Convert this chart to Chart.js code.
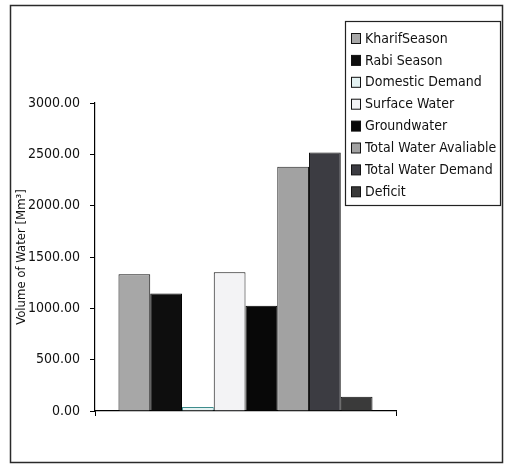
<!DOCTYPE html>
<html>
<head>
<meta charset="utf-8">
<script src="https://cdn.jsdelivr.net/npm/chart.js@4/dist/chart.umd.min.js"></script>
<style>
html,body{margin:0;padding:0;background:#fff;}
canvas{display:block;}
</style>
</head>
<body>
<canvas id="c" width="505" height="465"></canvas>
<script>
const categories = [''];
const seriesLabels = ['KharifSeason', 'Rabi Season', 'Domestic Demand', 'Surface Water', 'Groundwater', 'Total Water Avaliable', 'Total Water Demand', 'Deficit'];
const seriesValues = [1333, 1145, 40, 1352, 1026, 2378, 2518, 140];
const yTicks = [0, 500, 1000, 1500, 2000, 2500, 3000];
const yTickLabels = ['0.00', '500.00', '1000.00', '1500.00', '2000.00', '2500.00', '3000.00'];

const fills = ['#a7a7a7', '#0e0e0e', '#e4f2f2', '#f3f3f5', '#080808', '#a2a2a2', '#3c3c42', '#3a3a3a'];
const borders = ['#111', '#000', '#3d8c8c', '#111', '#000', '#222', '#111', '#111'];
const FONT = "'DejaVu Sans Condensed', 'Liberation Sans Narrow', 'Arial Narrow', 'DejaVu Sans', sans-serif";

const datasets = seriesLabels.map((lab, i) => ({
  label: lab,
  data: [seriesValues[i]],
  backgroundColor: fills[i],
  borderColor: borders[i],
  borderWidth: 1,
  barPercentage: 1,
  categoryPercentage: 0.844
}));

const framePlugin = {
  id: 'frame',
  beforeDraw(chart) {
    const ctx = chart.ctx;
    ctx.save();
    ctx.fillStyle = '#fff';
    ctx.fillRect(0, 0, chart.width, chart.height);
    ctx.strokeStyle = '#2a2a2a';
    ctx.lineWidth = 1.5;
    ctx.strokeRect(10.5, 5.5, 492, 457);
    ctx.restore();
  }
};

const legendPlugin = {
  id: 'boxLegend',
  afterDraw(chart) {
    const ctx = chart.ctx;
    ctx.save();
    ctx.fillStyle = '#fff';
    ctx.fillRect(345.5, 21.5, 155, 184);
    ctx.strokeStyle = '#222';
    ctx.lineWidth = 1.2;
    ctx.strokeRect(345.5, 21.5, 155, 184);
    ctx.font = '14px ' + FONT;
    ctx.textBaseline = 'middle';
    chart.data.datasets.forEach((ds, i) => {
      const y = 38.5 + i * 21.9;
      ctx.fillStyle = ds.backgroundColor;
      ctx.fillRect(351.5, y - 5, 9, 10);
      ctx.strokeStyle = '#111';
      ctx.lineWidth = 1;
      ctx.strokeRect(351.5, y - 5, 9, 10);
      ctx.fillStyle = '#111';
      ctx.fillText(ds.label, 365, y + 0.5);
    });
    ctx.restore();
  }
};

new Chart(document.getElementById('c'), {
  type: 'bar',
  data: { labels: categories, datasets: datasets },
  options: {
    responsive: false,
    animation: false,
    layout: { padding: { left: 0, right: 109, top: 103, bottom: 0 } },
    plugins: { legend: { display: false }, tooltip: { enabled: false } },
    scales: {
      x: {
        offset: true,
        grid: { offset: true, drawOnChartArea: false, drawTicks: true, tickLength: 5, color: '#000', lineWidth: 1 },
        border: { display: true, color: '#000', width: 1.2 },
        ticks: { display: false },
        afterFit(scale) { scale.height = 54; }
      },
      y: {
        min: 0,
        max: 3000,
        afterBuildTicks(scale) { scale.ticks = yTicks.map(v => ({ value: v })); },
        grid: { drawOnChartArea: false, drawTicks: true, tickLength: 5, color: '#000', lineWidth: 1 },
        border: { display: true, color: '#000', width: 1.2 },
        ticks: {
          padding: 10,
          color: '#111',
          font: { size: 14, family: FONT },
          callback: (v) => yTickLabels[yTicks.indexOf(v)]
        },
        title: {
          display: true,
          text: 'Volume of Water [Mm³]',
          color: '#111',
          font: { size: 13, family: FONT },
          padding: { top: 14, bottom: 0 }
        },
        afterFit(scale) { scale.width = 95; }
      }
    }
  },
  plugins: [framePlugin, legendPlugin]
});
</script>
</body>
</html>
